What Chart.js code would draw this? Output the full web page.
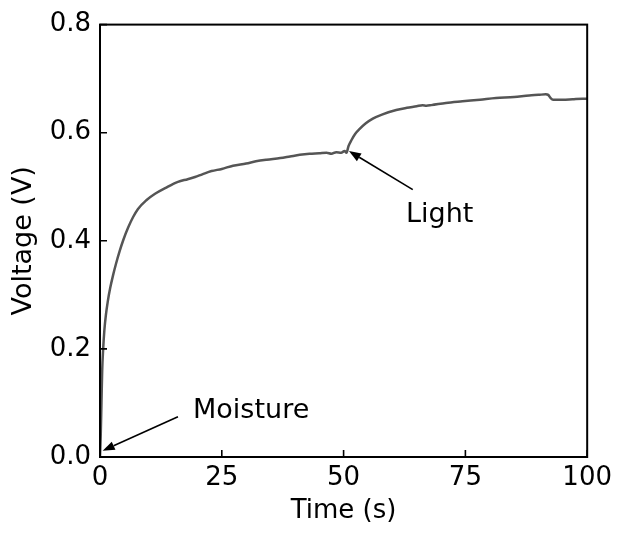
<!DOCTYPE html>
<html>
<head>
<meta charset="utf-8">
<script src="https://cdn.jsdelivr.net/npm/chart.js@4.4.1/dist/chart.umd.min.js"></script>
<style>
  html, body { margin: 0; padding: 0; background: #ffffff; }
  #wrap { width: 618px; height: 533px; }
</style>
</head>
<body>
<div id="wrap"><canvas id="c" width="618" height="533"></canvas></div>
<script>
// ---- data ----
const timeS = [0, 0.15, 0.3, 0.45, 0.65, 0.9, 1.2, 1.6, 2.1, 2.7, 3.3, 4.0, 4.8, 5.8, 6.8, 7.8, 9.5, 11.3, 13.5, 16, 18, 19.5, 21, 22.9, 25, 27.3, 30, 32, 34.2, 37, 39, 41, 43, 45, 46.5, 47.5, 48.5, 49.5, 50.2, 50.6, 51.0, 51.6, 52.4, 53.3, 54.5, 56, 58, 60.8, 63, 65, 66.2, 67, 68, 71, 74.4, 78, 81.3, 85, 88.1, 90, 91.5, 92, 92.5, 93, 95, 97, 99, 100];
const voltageV = [0, 0.04, 0.1, 0.16, 0.2, 0.235, 0.262, 0.288, 0.313, 0.337, 0.358, 0.38, 0.402, 0.425, 0.444, 0.459, 0.475, 0.487, 0.498, 0.509, 0.514, 0.518, 0.523, 0.529, 0.533, 0.539, 0.543, 0.547, 0.55, 0.553, 0.556, 0.559, 0.561, 0.562, 0.563, 0.561, 0.564, 0.563, 0.566, 0.563, 0.575, 0.586, 0.598, 0.607, 0.617, 0.626, 0.634, 0.642, 0.646, 0.649, 0.651, 0.65, 0.651, 0.655, 0.658, 0.661, 0.664, 0.666, 0.669, 0.67, 0.671, 0.67, 0.664, 0.661, 0.661, 0.662, 0.663, 0.663];
const xTicks = [0, 25, 50, 75, 100];
const yTicks = [0.0, 0.2, 0.4, 0.6, 0.8];
const xTitle = "Time (s)";
const yTitle = "Voltage (V)";
// annotations: label, label position (data units), arrow tail, arrow head (data units)
const annotLabels = ["Moisture", "Light"];
const annotTextAt = [[19.1, 0.072], [62.8, 0.435]];
const annotArrowFrom = [[16.0, 0.0745], [64.2, 0.4946]];
const annotArrowTo = [[0.55, 0.0117], [51.1, 0.566]];

const FONT = "'DejaVu Sans', 'Liberation Sans', Arial, sans-serif";

const points = timeS.map((t, i) => ({ x: t, y: voltageV[i] }));

const framePlugin = {
  id: 'frame',
  afterDraw(chart) {
    const { ctx, chartArea: a, scales } = chart;
    ctx.save();
    ctx.strokeStyle = '#000';
    ctx.lineWidth = 2;
    ctx.strokeRect(a.left, a.top, a.right - a.left, a.bottom - a.top);
    // inward tick marks
    ctx.lineWidth = 1.6;
    ctx.beginPath();
    xTicks.forEach(v => {
      const px = scales.x.getPixelForValue(v);
      ctx.moveTo(px, a.bottom);
      ctx.lineTo(px, a.bottom - 7);
    });
    yTicks.forEach(v => {
      const py = scales.y.getPixelForValue(v);
      ctx.moveTo(a.left, py);
      ctx.lineTo(a.left + 7, py);
    });
    ctx.stroke();
    // annotations
    ctx.fillStyle = '#000';
    ctx.font = "27px " + FONT;
    ctx.textBaseline = 'alphabetic';
    ctx.textAlign = 'left';
    annotLabels.forEach((lab, i) => {
      const tx = scales.x.getPixelForValue(annotTextAt[i][0]);
      const ty = scales.y.getPixelForValue(annotTextAt[i][1]);
      ctx.fillText(lab, tx, ty);
      const x0 = scales.x.getPixelForValue(annotArrowFrom[i][0]);
      const y0 = scales.y.getPixelForValue(annotArrowFrom[i][1]);
      const x1 = scales.x.getPixelForValue(annotArrowTo[i][0]);
      const y1 = scales.y.getPixelForValue(annotArrowTo[i][1]);
      const ang = Math.atan2(y1 - y0, x1 - x0);
      const hl = 12, hw = 4.5;
      const bx = x1 - hl * Math.cos(ang), by = y1 - hl * Math.sin(ang);
      ctx.lineWidth = 1.6;
      ctx.beginPath();
      ctx.moveTo(x0, y0);
      ctx.lineTo(bx, by);
      ctx.stroke();
      ctx.beginPath();
      ctx.moveTo(x1, y1);
      ctx.lineTo(bx + hw * Math.sin(ang), by - hw * Math.cos(ang));
      ctx.lineTo(bx - hw * Math.sin(ang), by + hw * Math.cos(ang));
      ctx.closePath();
      ctx.fill();
    });
    ctx.restore();
  }
};

new Chart(document.getElementById('c'), {
  type: 'scatter',
  data: {
    datasets: [{
      data: points,
      showLine: true,
      borderColor: '#555555',
      borderWidth: 2.5,
      pointRadius: 0,
      cubicInterpolationMode: 'monotone',
      fill: false
    }]
  },
  options: {
    responsive: false,
    animation: false,
    devicePixelRatio: 1,
    layout: { padding: { left: 0, right: 30, top: 24, bottom: 0 } },
    plugins: { legend: { display: false }, tooltip: { enabled: false } },
    scales: {
      x: {
        type: 'linear', min: 0, max: 100,
        afterBuildTicks(s) { s.ticks = xTicks.map(v => ({ value: v })); },
        afterFit(s) { s.height = 76; },
        grid: { display: true, drawOnChartArea: false, drawTicks: false },
        border: { display: false },
        ticks: {
          color: '#000', padding: 6,
          font: { family: FONT, size: 26 },
          callback: v => String(v)
        },
        title: {
          display: true, text: xTitle, color: '#000',
          font: { family: FONT, size: 26, lineHeight: 1.2 },
          padding: { top: 0, bottom: 6 }
        }
      },
      y: {
        type: 'linear', min: 0, max: 0.8,
        afterBuildTicks(s) { s.ticks = yTicks.map(v => ({ value: v })); },
        afterFit(s) { s.width = 100; },
        grid: { display: true, drawOnChartArea: false, drawTicks: false },
        border: { display: false },
        ticks: {
          color: '#000', padding: 9,
          font: { family: FONT, size: 26 },
          callback: v => Number(v).toFixed(1)
        },
        title: {
          display: true, text: yTitle, color: '#000',
          font: { family: FONT, size: 27, lineHeight: 1.2 },
          padding: { top: 8, bottom: 0 }
        }
      }
    }
  },
  plugins: [framePlugin]
});
</script>
</body>
</html>
